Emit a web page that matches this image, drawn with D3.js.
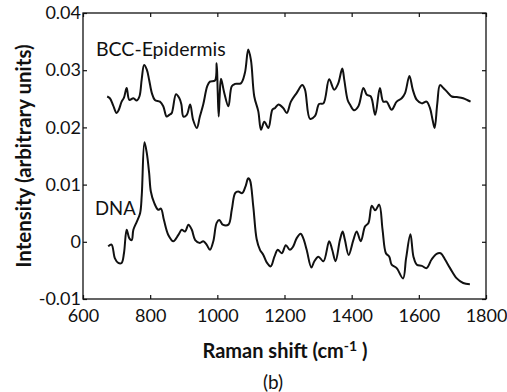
<!DOCTYPE html>
<html>
<head>
<meta charset="utf-8">
<script src="https://cdn.jsdelivr.net/npm/d3@7"></script>
<style>
  body { margin: 0; background: #fff; }
  text { font-family: Lato, "Open Sans", sans-serif; fill: #111; }
</style>
</head>
<body>
<div id="chart"></div>
<script>
// DATA //

// BCC-Epidermis spectrum (offset upwards in the figure)
const bccShift = [672, 680, 690, 700, 706, 715, 722, 730, 738, 750, 760, 768, 775, 782, 790, 797, 805, 814, 829, 839,
  849, 857, 864, 877, 887, 893, 899, 909, 919, 928, 939, 948, 958, 970, 978, 993, 998, 1001, 1004, 1007,
  1011, 1020, 1033, 1043, 1053, 1070, 1082, 1092, 1100, 1110, 1122, 1130, 1140, 1152, 1164, 1172, 1182, 1196, 1207, 1219,
  1236, 1253, 1261, 1276, 1291, 1303, 1316, 1333, 1348, 1360, 1372, 1378, 1388, 1395, 1407, 1420, 1435, 1445, 1457, 1470,
  1484, 1494, 1504, 1519, 1534, 1549, 1559, 1572, 1582, 1594, 1609, 1623, 1633, 1641, 1647, 1655, 1663, 1673, 1683, 1698,
  1713, 1732, 1747, 1754];
const bccIntensity = [0.0254, 0.0251, 0.0238, 0.0225, 0.0230, 0.0245, 0.0252, 0.0269, 0.0248, 0.0251, 0.0247, 0.0254, 0.0285, 0.0309, 0.0301, 0.0283, 0.0260, 0.0248, 0.0245, 0.0237,
  0.0219, 0.0222, 0.0225, 0.0258, 0.0251, 0.0240, 0.0219, 0.0222, 0.0240, 0.0213, 0.0199, 0.0219, 0.0240, 0.0272, 0.0280, 0.0282, 0.0312, 0.0265, 0.0219, 0.0255,
  0.0285, 0.0262, 0.0237, 0.0272, 0.0276, 0.0277, 0.0295, 0.0336, 0.0318, 0.0254, 0.0228, 0.0196, 0.0210, 0.0199, 0.0231, 0.0234, 0.0240, 0.0234, 0.0225, 0.0245,
  0.0260, 0.0274, 0.0266, 0.0215, 0.0220, 0.0241, 0.0242, 0.0284, 0.0266, 0.0277, 0.0303, 0.0283, 0.0248, 0.0240, 0.0230, 0.0237, 0.0269, 0.0257, 0.0254, 0.0222,
  0.0269, 0.0245, 0.0245, 0.0231, 0.0245, 0.0251, 0.0260, 0.0290, 0.0266, 0.0248, 0.0242, 0.0245, 0.0234, 0.0213, 0.0199, 0.0242, 0.0274, 0.0269, 0.0263, 0.0254,
  0.0253, 0.0251, 0.0247, 0.0245];

// DNA spectrum
const dnaShift = [675, 685, 695, 705, 715, 722, 730, 738, 745, 750, 760, 770, 775, 783, 790, 797, 802, 812, 824, 832,
  841, 854, 869, 884, 894, 904, 914, 924, 934, 948, 958, 968, 978, 988, 998, 1006, 1016, 1033, 1043, 1053,
  1062, 1074, 1084, 1092, 1097, 1107, 1117, 1127, 1137, 1147, 1159, 1170, 1180, 1192, 1204, 1216, 1226, 1236, 1248, 1256,
  1266, 1280, 1289, 1301, 1316, 1333, 1342, 1352, 1365, 1373, 1380, 1391, 1405, 1415, 1427, 1440, 1450, 1460, 1470, 1482,
  1492, 1502, 1512, 1519, 1534, 1553, 1562, 1575, 1584, 1594, 1609, 1623, 1638, 1653, 1665, 1678, 1693, 1713, 1732, 1752];
const dnaIntensity = [-0.0008, -0.0005, -0.0029, -0.0037, -0.0037, -0.0020, 0.0021, 0.0006, 0.0003, 0.0021, 0.0035, 0.0050, 0.0082, 0.0174, 0.0155, 0.0120, 0.0088, 0.0068, 0.0056, 0.0058,
  0.0038, 0.0012, 0.0001, 0.0012, 0.0021, 0.0018, 0.0030, 0.0021, 0.0003, -0.0002, 0.0001, -0.0005, -0.0014, 0.0001, 0.0033, 0.0038, 0.0030, 0.0030, 0.0056, 0.0085,
  0.0088, 0.0085, 0.0097, 0.0111, 0.0108, 0.0062, 0.0005, -0.0014, -0.0023, -0.0036, -0.0043, -0.0026, -0.0014, -0.0020, -0.0006, -0.0014, -0.0008, 0.0006, 0.0014, 0.0006,
  -0.0014, -0.0045, -0.0034, -0.0026, -0.0034, 0.0001, -0.0014, -0.0034, 0.0003, 0.0018, 0.0003, -0.0023, 0.0003, 0.0018, 0.0001, 0.0027, 0.0033, 0.0063, 0.0055, 0.0065,
  0.0021, -0.0020, -0.0026, -0.0040, -0.0046, -0.0064, -0.0029, 0.0013, -0.0026, -0.0040, -0.0042, -0.0046, -0.0031, -0.0021, -0.0020, -0.0031, -0.0046, -0.0064, -0.0072, -0.0074];

// axis ticks
const xTicks = [600, 800, 1000, 1200, 1400, 1600, 1800];
const yTicks = [-0.01, 0, 0.01, 0.02, 0.03, 0.04];
const yTickLabels = ["-0.01", "0", "0.01", "0.02", "0.03", "0.04"];

// DIMENSIONS //

let width = 507, height = 392;
let margin = {top: 13, right: 21, bottom: 93, left: 83};

let svg = d3.select("#chart")
    .append("svg")
    .attr("width", width)
    .attr("height", height);

let xScale = d3.scaleLinear()
    .domain([600, 1800])
    .range([margin.left, width - margin.right]);

let yScale = d3.scaleLinear()
    .domain([-0.01, 0.04])
    .range([height - margin.bottom, margin.top]);

// AXES //

// ticks point inward on every side
svg.append("g")
    .attr("transform", "translate(0," + yScale(-0.01) + ")")
    .call(d3.axisBottom(xScale).tickValues(xTicks).tickSize(-4).tickPadding(10).tickFormat(d3.format("d")))
    .call(g => g.select(".domain").remove());

svg.append("g")
    .attr("transform", "translate(0," + yScale(0.04) + ")")
    .call(d3.axisTop(xScale).tickValues(xTicks).tickSize(-4).tickFormat(""))
    .call(g => g.select(".domain").remove());

svg.append("g")
    .attr("transform", "translate(" + xScale(600) + ",0)")
    .call(d3.axisLeft(yScale).tickValues(yTicks).tickSize(-4).tickPadding(2)
        .tickFormat((d, i) => yTickLabels[i]))
    .call(g => g.select(".domain").remove());

svg.append("g")
    .attr("transform", "translate(" + xScale(1800) + ",0)")
    .call(d3.axisRight(yScale).tickValues(yTicks).tickSize(-4).tickFormat(""))
    .call(g => g.select(".domain").remove());

svg.selectAll(".tick line").attr("stroke", "#111").attr("stroke-width", 1.2);
svg.selectAll(".tick text")
    .style("font-family", "Lato, sans-serif")
    .style("font-size", "18px")
    .attr("fill", "#111");

// plot frame
svg.append("rect")
    .attr("x", xScale(600))
    .attr("y", yScale(0.04))
    .attr("width", xScale(1800) - xScale(600))
    .attr("height", yScale(-0.01) - yScale(0.04))
    .attr("fill", "none")
    .attr("stroke", "#111")
    .attr("stroke-width", 1.3);

// DRAW SPECTRA //

let line = d3.line()
    .x(d => xScale(d[0]))
    .y(d => yScale(d[1]))
    .curve(d3.curveCatmullRom.alpha(0.5));

let spectra = [
    d3.zip(bccShift, bccIntensity),
    d3.zip(dnaShift, dnaIntensity)
];

svg.append("g")
    .selectAll("path")
    .data(spectra)
    .enter()
    .append("path")
    .attr("d", line)
    .attr("fill", "none")
    .attr("stroke", "#111")
    .attr("stroke-width", 2)
    .attr("stroke-linejoin", "round");

// LABELS //

svg.append("text")
    .attr("x", 96)
    .attr("y", 56)
    .style("font-size", "19.5px")
    .text("BCC-Epidermis");

svg.append("text")
    .attr("x", 95)
    .attr("y", 215)
    .style("font-size", "18.5px")
    .text("DNA");

// y axis title
svg.append("text")
    .attr("transform", "translate(31," + (margin.top + (height - margin.bottom - margin.top) / 2) + ") rotate(-90)")
    .attr("text-anchor", "middle")
    .style("font-size", "20.5px")
    .style("font-weight", "bold")
    .text("Intensity (arbitrary units)");

// x axis title with superscript
let xTitle = svg.append("text")
    .attr("x", 285)
    .attr("y", 358)
    .attr("text-anchor", "middle")
    .style("font-size", "20px")
    .style("font-weight", "bold");
xTitle.append("tspan").text("Raman shift (cm");
xTitle.append("tspan").attr("dy", -7).style("font-size", "14px").text("-1");
xTitle.append("tspan").attr("dy", 7).text(" )");

svg.append("text")
    .attr("x", 273)
    .attr("y", 389)
    .attr("text-anchor", "middle")
    .style("font-size", "19px")
    .text("(b)");
</script>
</body>
</html>
